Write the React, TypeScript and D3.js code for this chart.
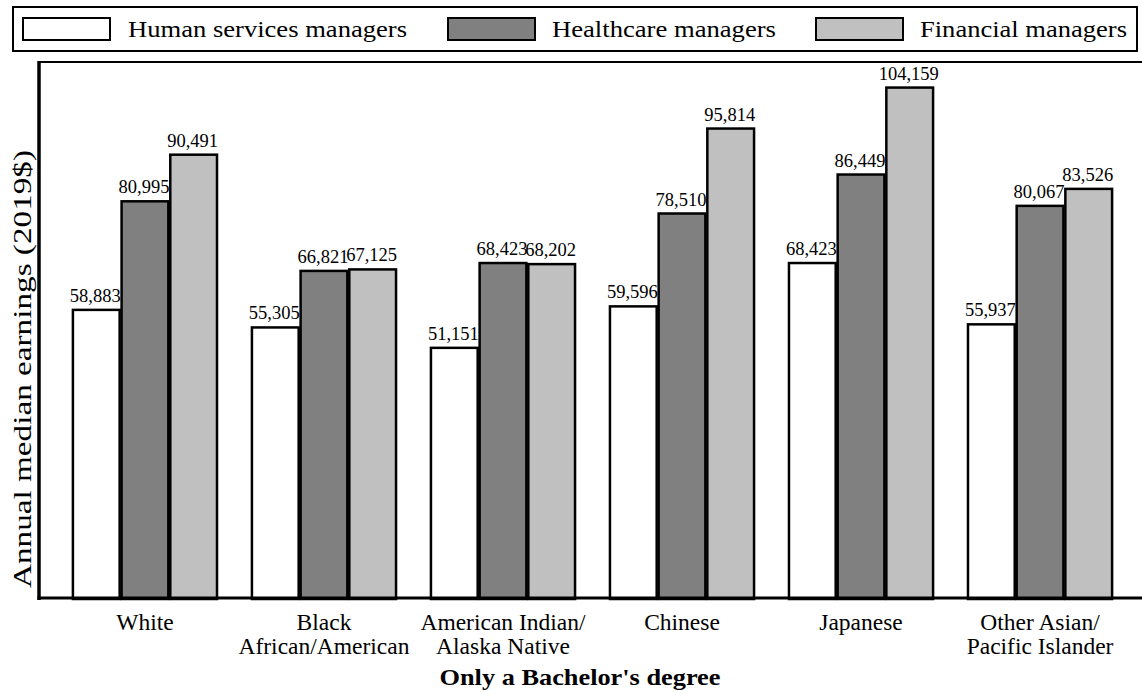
import React from "react";
import * as d3 from "d3";

// Groups along the x axis and their printed (wrapped) labels
const groups = ["White", "Black", "AmIndian", "Chinese", "Japanese", "OtherAsian"];
const groupLabels: string[][] = [
  ["White"],
  ["Black", "African/American"],
  ["American Indian/", "Alaska Native"],
  ["Chinese"],
  ["Japanese"],
  ["Other Asian/", "Pacific Islander"],
];

// Series
const seriesNames = ["Human services managers", "Healthcare managers", "Financial managers"];
const seriesFill = ["#ffffff", "#808080", "#c0c0c0"];

// Annual median earnings (2019$)
const humanServices = [58883, 55305, 51151, 59596, 68423, 55937];
const healthcare = [80995, 66821, 68423, 78510, 86449, 80067];
const financial = [90491, 67125, 68202, 95814, 104159, 83526];
const seriesValues = [humanServices, healthcare, financial];

const yTitle = "Annual median earnings (2019$)";
const xTitle = "Only a Bachelor's degree";

const W = 1142;
const H = 695;
const FONT = '"Liberation Serif", "Times New Roman", Times, "DejaVu Serif", serif';

const plot = { left: 38, right: 1147, top: 62, bottom: 599 };

export default function App() {
  const maxV = d3.max(seriesValues.flat()) as number;
  const y = d3.scaleLinear().domain([0, maxV * 1.05]).range([plot.bottom, plot.top]);
  const x0 = d3
    .scaleBand<string>()
    .domain(groups)
    .range([plot.left, plot.right])
    .paddingInner(0.195)
    .paddingOuter(0.195);
  const x1 = d3
    .scaleBand<string>()
    .domain(seriesNames)
    .range([0, x0.bandwidth()])
    .paddingInner(0.04);
  const fmt = d3.format(",");

  // legend layout
  const legendSwatchX = [23, 448, 816];
  const legendTextX = [128, 552, 920];
  const legendTextLen = [279, 224, 207];

  return (
    <svg
      width={W}
      height={H}
      style={{ position: "absolute", left: 0, top: 0, background: "#fff", fontFamily: FONT }}
    >
      <rect x={0} y={0} width={W} height={H} fill="#fff" />

      {/* Legend */}
      <rect x={13} y={7} width={1124} height={44} fill="none" stroke="#000" strokeWidth={2} />
      {seriesNames.map((s, i) => (
        <g key={s}>
          <rect
            x={legendSwatchX[i]}
            y={18}
            width={87}
            height={22}
            fill={seriesFill[i]}
            stroke="#000"
            strokeWidth={2}
          />
          <text
            x={legendTextX[i]}
            y={37}
            fontSize={24}
            textLength={legendTextLen[i]}
            lengthAdjust="spacingAndGlyphs"
            fill="#000"
          >
            {s}
          </text>
        </g>
      ))}

      {/* Bars */}
      {groups.map((g, gi) => (
        <g key={g} transform={`translate(${x0(g)},0)`}>
          {seriesNames.map((s, si) => {
            const v = seriesValues[si][gi];
            const bx = x1(s) as number;
            return (
              <g key={s}>
                <rect
                  x={bx}
                  y={y(v)}
                  width={x1.bandwidth()}
                  height={plot.bottom - y(v)}
                  fill={seriesFill[si]}
                  stroke="#000"
                  strokeWidth={2.5}
                />
                <text
                  x={bx + x1.bandwidth() / 2 - 1}
                  y={y(v) - 8}
                  fontSize={18.5}
                  textAnchor="middle"
                  fill="#000"
                >
                  {fmt(v)}
                </text>
              </g>
            );
          })}
        </g>
      ))}

      {/* Frame / axes */}
      <line x1={38} x2={W} y1={62} y2={62} stroke="#000" strokeWidth={2} />
      <line x1={39} x2={39} y1={61} y2={600} stroke="#000" strokeWidth={3.5} />
      <line x1={37.5} x2={W} y1={598} y2={598} stroke="#000" strokeWidth={3} />

      {/* Category labels */}
      {groups.map((g, gi) => (
        <text
          key={g}
          x={(x0(g) as number) + x0.bandwidth() / 2}
          y={630}
          fontSize={23.5}
          textAnchor="middle"
          fill="#000"
        >
          {groupLabels[gi].map((line, li) => (
            <tspan key={li} x={(x0(g) as number) + x0.bandwidth() / 2} dy={li === 0 ? 0 : 23.5}>
              {line}
            </tspan>
          ))}
        </text>
      ))}

      {/* Axis titles */}
      <text
        x={580}
        y={685}
        fontSize={24}
        fontWeight="bold"
        textAnchor="middle"
        textLength={281}
        lengthAdjust="spacingAndGlyphs"
        fill="#000"
      >
        {xTitle}
      </text>
      <text
        transform="translate(31,369) rotate(-90)"
        fontSize={25}
        textAnchor="middle"
        textLength={438}
        lengthAdjust="spacingAndGlyphs"
        fill="#000"
      >
        {yTitle}
      </text>
    </svg>
  );
}
